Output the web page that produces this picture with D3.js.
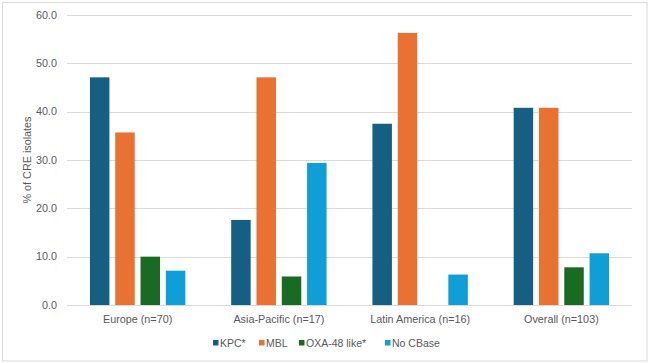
<!DOCTYPE html>
<html>
<head>
<meta charset="utf-8">
<script src="https://cdn.jsdelivr.net/npm/d3@7"></script>
<style>
  html, body { margin: 0; padding: 0; background: #ffffff; }
  svg { display: block; }
  text { font-family: "Liberation Sans", Arial, sans-serif; fill: #595959; }
</style>
</head>
<body>
<svg id="chart" width="650" height="363"></svg>
<script>
const categories = ["Europe (n=70)", "Asia-Pacific (n=17)", "Latin America (n=16)", "Overall (n=103)"];
const seriesNames = ["KPC*", "MBL", "OXA-48 like*", "No CBase"];
const kpc = [47.1, 17.6, 37.5, 40.8];
const mbl = [35.7, 47.1, 56.3, 40.8];
const oxa = [10.0, 5.9, 0.0, 7.8];
const noCBase = [7.1, 29.4, 6.3, 10.7];
const yTicks = [0, 10, 20, 30, 40, 50, 60];
const colors = ["#156082", "#E97132", "#196B24", "#0F9ED5"];

const seriesValues = [kpc, mbl, oxa, noCBase];

const svg = d3.select("#chart");
const W = 650, H = 363;

// chart frame
svg.append("rect")
  .attr("x", 2.5).attr("y", 2.5)
  .attr("width", W - 5.5).attr("height", H - 4.5)
  .attr("fill", "#ffffff").attr("stroke", "#d9d9d9").attr("stroke-width", 1);

const plot = { left: 67, right: 632, top: 15, bottom: 305 };

const x = d3.scaleBand().domain(categories).range([plot.left, plot.right]).padding(0);
const y = d3.scaleLinear().domain([0, 60]).range([plot.bottom, plot.top]);

const clusterW = 101.2;
const xs = d3.scaleBand().domain(seriesNames)
  .range([-clusterW / 2, clusterW / 2])
  .paddingInner(0.23).paddingOuter(0.115);

// gridlines
svg.append("g").selectAll("line").data(yTicks).join("line")
  .attr("x1", plot.left).attr("x2", plot.right)
  .attr("y1", d => Math.round(y(d)) + 0.5).attr("y2", d => Math.round(y(d)) + 0.5)
  .attr("stroke", "#d9d9d9").attr("stroke-width", 1);

// y tick labels
svg.append("g").selectAll("text").data(yTicks).join("text")
  .attr("x", 57).attr("y", d => y(d))
  .attr("dy", "0.35em").attr("text-anchor", "end")
  .attr("font-size", 10.8)
  .text(d => d3.format(".1f")(d));

// y axis title
svg.append("text")
  .attr("transform", `translate(27,${(plot.top + plot.bottom) / 2}) rotate(-90)`)
  .attr("text-anchor", "middle").attr("dy", "0.35em")
  .attr("font-size", 10.8)
  .text("% of CRE isolates");

// bars
const barData = [];
categories.forEach((c, ci) => {
  seriesNames.forEach((s, si) => {
    barData.push({ cat: c, ser: s, si, v: seriesValues[si][ci] });
  });
});

svg.append("g").selectAll("rect").data(barData).join("rect")
  .attr("x", d => x(d.cat) + x.bandwidth() / 2 + xs(d.ser))
  .attr("width", xs.bandwidth())
  .attr("y", d => y(d.v))
  .attr("height", d => y(0) - y(d.v))
  .attr("fill", d => colors[d.si]);

// category labels
svg.append("g").selectAll("text").data(categories).join("text")
  .attr("x", d => x(d) + x.bandwidth() / 2)
  .attr("y", 319).attr("dy", "0.35em")
  .attr("text-anchor", "middle").attr("font-size", 10.8)
  .text(d => d);

// legend
const legendX = [213, 259, 299, 385];
const lg = svg.append("g").selectAll("g").data(seriesNames).join("g")
  .attr("transform", (d, i) => `translate(${legendX[i]},343)`);
lg.append("rect").attr("x", 0).attr("y", -3).attr("width", 5.5).attr("height", 5.5)
  .attr("fill", (d, i) => colors[i]);
lg.append("text").attr("x", 7).attr("y", 0).attr("dy", "0.35em")
  .attr("font-size", 10.5).text(d => d);
</script>
</body>
</html>
